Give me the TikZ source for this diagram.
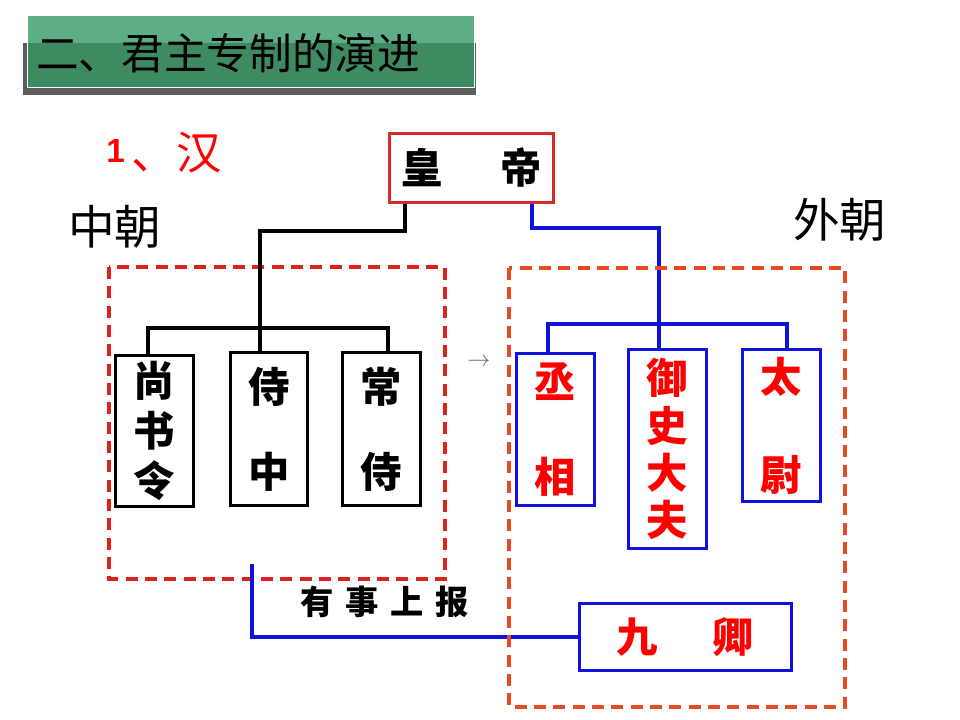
\documentclass[tikz,border=0pt]{standalone}
\usepackage{fontspec}
\newfontfamily\cjk{Noto Sans CJK SC}
\newfontfamily\libsans{Liberation Sans}
\usetikzlibrary{arrows.meta}
\definecolor{ltgreen}{HTML}{5DAE86}
\definecolor{dkgreen}{HTML}{3F8B61}
\definecolor{shadowgray}{HTML}{5E5E5E}
\definecolor{boxred}{HTML}{D42A2A}
\definecolor{dashred}{HTML}{E0201C}
\definecolor{dashorange}{HTML}{E84A22}
\definecolor{lineblue}{HTML}{1010E0}
\begin{document}
\begin{tikzpicture}[x=0.75pt,y=-0.75pt,
  blk/.style={draw=black,line width=2.6pt},
  blu/.style={draw=lineblue,line width=2.6pt},
  vbox/.style={draw,line width=2.4pt,inner sep=0pt,align=center,minimum width=58.5pt},
  boxfont/.style={font=\cjk\bfseries\fontsize{31}{#1}\selectfont},
  dashbox/.style={line width=2.6pt,dash pattern=on 9pt off 5.5pt},
  bigtext/.style={font=\cjk\fontsize{35}{35}\selectfont,anchor=west,inner sep=0pt}
]
\useasboundingbox (0,0) rectangle (960,720);
% title banner
\fill[shadowgray] (23,43) rectangle (476,95);
\fill[ltgreen] (27,16) rectangle (474,43);
\fill[dkgreen] (27,43) rectangle (474,88);
\draw[white,line width=0.75pt] (27,16) rectangle (474,88);
\node[anchor=west,inner sep=0pt,font=\cjk\fontsize{32}{32}\selectfont] (title) at (36,53) {二、君主专制的演进};
% headings
\node[anchor=base west,inner sep=0pt,text=red] (han) at (106,163)
  {{\libsans\bfseries\fontsize{25}{25}\selectfont 1}\hspace{5pt}\raisebox{-5pt}{\cjk\fontsize{34}{34}\selectfont 、汉}};
\node[bigtext] (zhongchao) at (68,227) {中朝};
\node[bigtext] (waichao) at (793,220) {外朝};
% dashed groups
\draw[dashbox,dashred] (109,267) rectangle (445,579);
% emperor
\node[vbox,draw=boxred,minimum width=123pt,minimum height=51.75pt,boxfont=31]
  (huang) at (471.5,168) {皇\hspace{43pt}帝};
% inner court
\node[vbox,minimum height=113.25pt,boxfont=37.5] (shang) at (154.5,431) {尚\\书\\令};
\node[vbox,minimum width=57.75pt,minimum height=114.75pt,boxfont=63.75] (shizhong) at (269,429) {侍\\中};
\node[vbox,minimum height=114.75pt,boxfont=63.75] (changshi) at (381.5,429) {常\\侍};
% outer court
\node[vbox,draw=lineblue,text=red,minimum height=114pt,boxfont=71.25] (cheng) at (555.5,429.5) {丞\\相};
\node[vbox,draw=lineblue,text=red,minimum height=149.25pt,boxfont=35.5] (yushi) at (667.5,449) {御\\史\\大\\夫};
\node[vbox,draw=lineblue,text=red,minimum height=114pt,boxfont=73.5] (taiwei) at (781.5,425.5) {太\\尉};
\node[vbox,draw=lineblue,text=red,minimum width=159pt,minimum height=50.25pt,boxfont=29]
  (jiuqing) at (685.5,637) {九\hspace{41pt}卿};
% small arrow
\node[inner sep=0pt,text=black!60] (arr) at (479,362) {\fontsize{17}{17}\selectfont$\rightarrow$};
% report label
\node[inner sep=0pt,font=\cjk\bfseries\fontsize{25}{25}\selectfont] (report) at (385,602)
  {有\hspace{8.8pt}事\hspace{8.8pt}上\hspace{8.8pt}报};
% black connectors
\coordinate (bk1) at (405,0);
\coordinate (bkj) at (260,231);
\coordinate (bkb) at (260,328);
\coordinate (xa) at (148,0);
\coordinate (xc) at (388,0);
\draw[blk] (bk1 |- huang.south) |- (bkj) -- (bkj |- shizhong.north);
\draw[blk] (xa |- shang.north) |- (xc |- bkb) -- (xc |- changshi.north);
% blue connectors
\coordinate (bl1) at (532,0);
\coordinate (blj) at (659,228);
\coordinate (blb) at (659,324);
\coordinate (xd) at (548,0);
\coordinate (xe) at (787,0);
\draw[blu] (bl1 |- huang.south) |- (blj) -- (blj |- yushi.north);
\draw[blu] (xd |- cheng.north) |- (xe |- blb) -- (xe |- taiwei.north);
\coordinate (bs) at (252,564);
\draw[blu] (bs) |- (jiuqing.west);
\draw[dashbox,dashorange] (509,268) rectangle (845,707);
\end{tikzpicture}
\end{document}
